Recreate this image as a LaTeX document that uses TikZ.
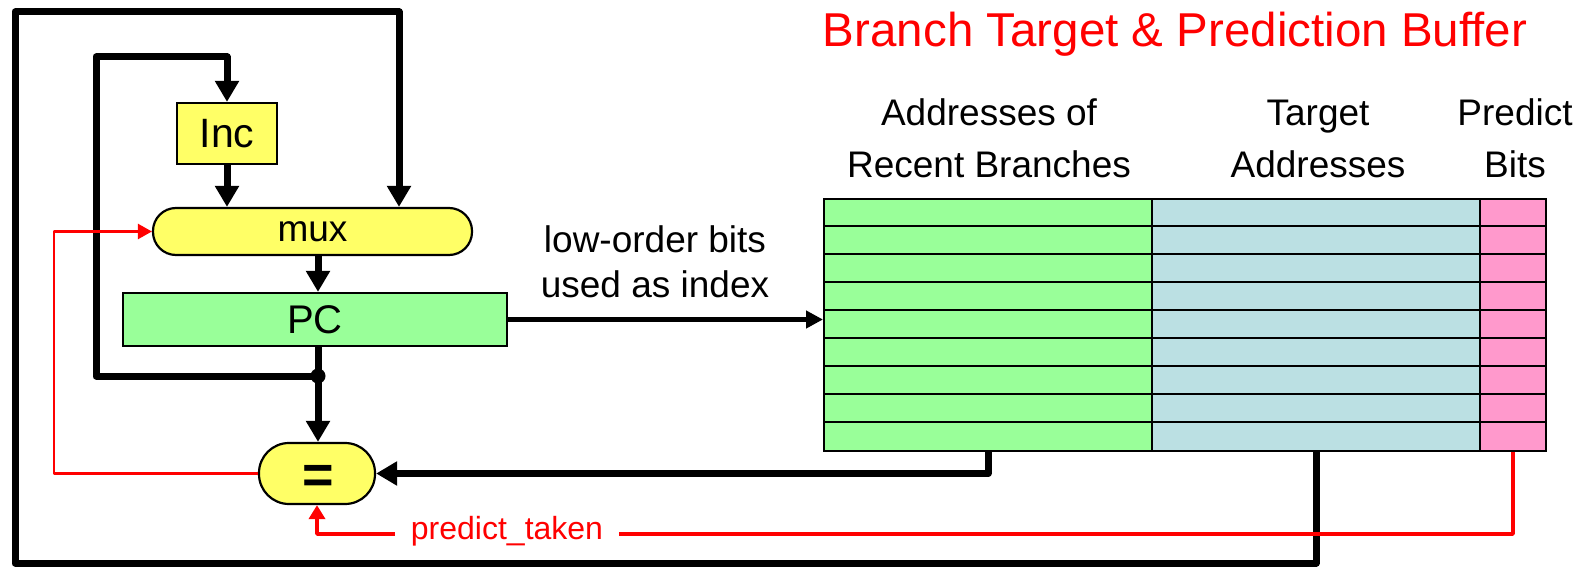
\documentclass[tikz,border=0pt]{standalone}
\usepackage{fontspec}
\setmainfont{Liberation Sans}
\usetikzlibrary{arrows.meta}
\definecolor{boxyellow}{HTML}{FFFF66}
\definecolor{boxgreen}{HTML}{99FF99}
\definecolor{boxblue}{HTML}{BBE0E3}
\definecolor{boxpink}{HTML}{FF99CC}
\definecolor{sigred}{HTML}{FF0000}
\begin{document}
\begin{tikzpicture}[x=1pt,y=-1pt,
  bus/.style={line width=7pt,line join=round,draw=black},
  busarrow/.style={bus,-{Triangle[width=23pt,length=21pt]}},
  idxarrow/.style={line width=5pt,draw=black,-{Triangle[width=17pt,length=17pt]}},
  redthin/.style={line width=2.5pt,draw=sigred,line join=round,-{Triangle[width=15pt,length=14pt]}},
  redthick/.style={line width=3.5pt,draw=sigred,line join=round,-{Triangle[width=16pt,length=14pt]}},
  unitbox/.style={draw=black,line width=2.2pt,inner sep=0pt},
  column/.style={draw=black,line width=2pt,inner sep=0pt,minimum height=252pt},
  rowline/.style={draw=black,line width=2pt},
  hdr/.style={anchor=base,inner sep=0pt,font=\fontsize{37}{44}\selectfont},
]
\useasboundingbox (0,0) rectangle (1581,567);

% title
\node[anchor=base,inner sep=0pt,text=sigred,font=\fontsize{47.5}{56}\selectfont] (title) at (1175,47) {Branch Target \& Prediction Buffer};

% headers
\node[hdr] (hA1) at (989,125) {Addresses of};
\node[hdr] (hA2) at (989,177) {Recent Branches};
\node[hdr] (hB1) at (1318,125) {Target};
\node[hdr] (hB2) at (1318,177) {Addresses};
\node[hdr] (hC1) at (1515,125) {Predict};
\node[hdr] (hC2) at (1515,177) {Bits};

% index label
\node[hdr] (lo1) at (655,252) {low-order bits};
\node[hdr] (lo2) at (655,297) {used as index};

% table
\node[column,fill=boxgreen,minimum width=328pt] (colA) at (988,325) {};
\node[column,fill=boxblue,minimum width=328pt] (colB) at (1316,325) {};
\node[column,fill=boxpink,minimum width=66pt] (colC) at (1513,325) {};
\foreach \i in {1,...,8}
  \draw[rowline] ([yshift=-28*\i pt]colA.north west) -- ([yshift=-28*\i pt]colC.north east);

% datapath boxes
\node[unitbox,fill=boxyellow,minimum width=100pt,minimum height=61pt,font=\fontsize{41}{48}\selectfont] (inc) at (227,133.5) {Inc};
\node[unitbox,fill=boxyellow,minimum width=319pt,minimum height=47pt,rounded corners=23pt,font=\fontsize{37}{44}\selectfont] (mux) at (312.5,231.5) {mux};
\node[unitbox,fill=boxgreen,minimum width=384pt,minimum height=53pt,font=\fontsize{40}{48}\selectfont] (pc) at (315,319.5) {PC};
\node[unitbox,fill=boxyellow,minimum width=116pt,minimum height=61pt,rounded corners=30pt] (eq) at (317,473.5) {};
\node[inner sep=0pt,font=\bfseries\fontsize{54}{60}\selectfont] (eqsign) at (318,479.5) {=};

\coordinate (j) at (318,376);
\coordinate (innerL) at (96,57);
\coordinate (outerTL) at (15,12);
\coordinate (outerTR) at (399,12);
\coordinate (redL) at (54,231.5);
\coordinate (predY) at (0,534);

% mux -> PC -> junction -> =
\draw[busarrow] (mux.south -| j) -- (pc.north -| j);
\draw[bus] (pc.south -| j) -- (j);
\draw[busarrow] (j) -- (eq.north -| j);
% inner loop PC -> Inc -> mux
\draw[busarrow] (j) -| (innerL) -| (inc.north);
\draw[busarrow] (inc.south) -- (inc.south |- mux.north);
% outer loop target -> mux
\draw[busarrow] (colB.south) |- (15,563) -- (outerTL) -- (outerTR) -- (outerTR |- mux.north);
% tag compare
\draw[busarrow] (colA.south) |- (eq.east);
% index
\draw[idxarrow] (pc.east) -- (pc.east -| colA.west);
\fill (j) circle (7.5pt);

% red control signals
\draw[redthin] (eq.west) -| (redL) -- (mux.west);
\draw[redthick] (colC.south) |- (predY -| eq.south) -- (eq.south);
\node[fill=white,inner xsep=16pt,inner ysep=2pt,text=sigred,font=\fontsize{32}{38}\selectfont] (pt) at (507,531) {predict\_taken};
\end{tikzpicture}
\end{document}
